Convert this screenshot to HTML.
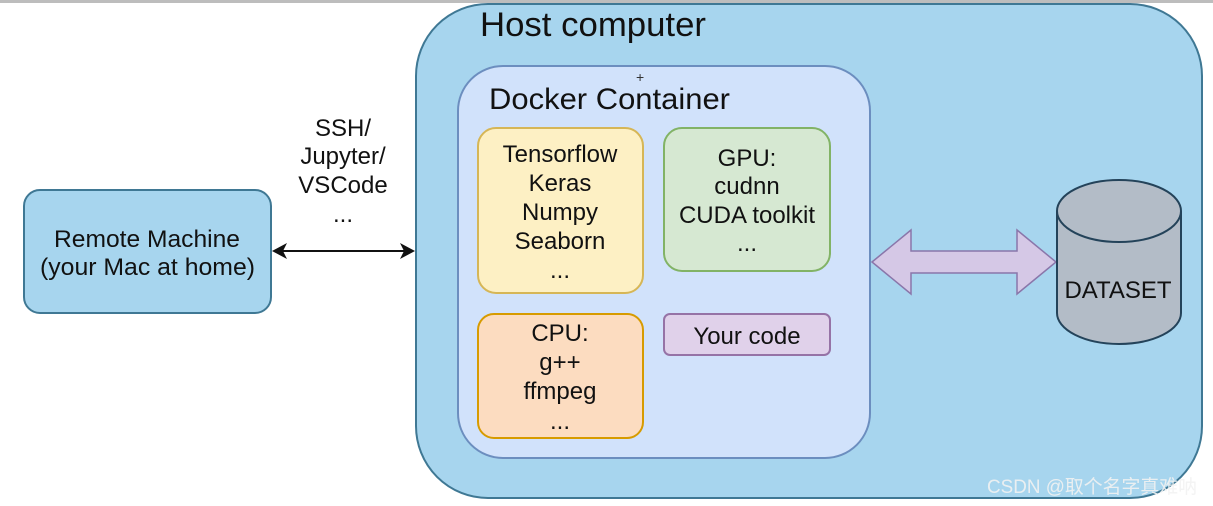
<!DOCTYPE html>
<html><head><meta charset="utf-8"><style>
html,body{margin:0;padding:0;background:#fff;}
svg{display:block;font-family:"Liberation Sans","Noto Sans CJK SC",sans-serif;}
</style></head><body>
<svg width="1213" height="506" viewBox="0 0 1213 506" xmlns="http://www.w3.org/2000/svg">
<rect x="0" y="0" width="1213" height="3" fill="#bdbdbd"/>
<rect x="416" y="4" width="786" height="494" rx="72" fill="#a7d5ee" stroke="#3f7894" stroke-width="2"/>
<text x="480" y="36" font-size="34" fill="#111" textLength="226" lengthAdjust="spacingAndGlyphs">Host computer</text>
<rect x="458" y="66" width="412" height="392" rx="45" fill="#d1e2fb" stroke="#6c8ebf" stroke-width="2"/>
<text x="489" y="109" font-size="30" fill="#111" textLength="241" lengthAdjust="spacingAndGlyphs">Docker Container</text>
<text x="636" y="82" font-size="14" fill="#333">+</text>
<rect x="478" y="128" width="165" height="165" rx="18" fill="#fdf0c4" stroke="#d6b656" stroke-width="2"/>
<g font-size="24" fill="#111" text-anchor="middle">
<text x="560" y="162">Tensorflow</text><text x="560" y="191">Keras</text><text x="560" y="220">Numpy</text><text x="560" y="249">Seaborn</text><text x="560" y="278">...</text>
</g>
<rect x="664" y="128" width="166" height="143" rx="18" fill="#d6e8d2" stroke="#82b366" stroke-width="2"/>
<g font-size="24" fill="#111" text-anchor="middle">
<text x="747" y="166">GPU:</text><text x="747" y="194">cudnn</text><text x="747" y="223">CUDA toolkit</text><text x="747" y="251">...</text>
</g>
<rect x="478" y="314" width="165" height="124" rx="16" fill="#fcdcc0" stroke="#d79b00" stroke-width="2"/>
<g font-size="24" fill="#111" text-anchor="middle">
<text x="560" y="341">CPU:</text><text x="560" y="370">g++</text><text x="560" y="399">ffmpeg</text><text x="560" y="429">...</text>
</g>
<rect x="664" y="314" width="166" height="41" rx="6" fill="#e0d1ea" stroke="#9673a6" stroke-width="2"/>
<text x="747" y="344" font-size="24" fill="#111" text-anchor="middle">Your code</text>
<rect x="24" y="190" width="247" height="123" rx="16" fill="#a7d5ee" stroke="#3f7894" stroke-width="2"/>
<g font-size="24" fill="#111">
<text x="54" y="247" textLength="186" lengthAdjust="spacingAndGlyphs">Remote Machine</text><text x="40" y="275" textLength="215" lengthAdjust="spacingAndGlyphs">(your Mac at home)</text>
</g>
<g font-size="24" fill="#111" text-anchor="middle">
<text x="343" y="136">SSH/</text><text x="343" y="164">Jupyter/</text><text x="343" y="193">VSCode</text><text x="343" y="222">...</text>
</g>
<line x1="280" y1="251" x2="406" y2="251" stroke="#111" stroke-width="2"/>
<path d="M272 251 L287 243 L283 251 L287 259 Z" fill="#111"/>
<path d="M415 251 L400 243 L404 251 L400 259 Z" fill="#111"/>
<path d="M872 262 L911 230 L911 251 L1017 251 L1017 230 L1056 262 L1017 294 L1017 273 L911 273 L911 294 Z" fill="#d5c8e6" stroke="#8a76aa" stroke-width="1.5"/>
<path d="M1057 211 L1057 313 A62 31 0 0 0 1181 313 L1181 211" fill="#b3bcc7" stroke="#24435a" stroke-width="2"/>
<ellipse cx="1119" cy="211" rx="62" ry="31" fill="#b3bcc7" stroke="#24435a" stroke-width="2"/>
<text x="1118" y="298" font-size="24" fill="#111" text-anchor="middle">DATASET</text>
<text x="987" y="493" font-size="19" fill="#f2f2f2" opacity="0.9" textLength="210" lengthAdjust="spacingAndGlyphs">CSDN @取个名字真难呐</text>
</svg>
</body></html>
